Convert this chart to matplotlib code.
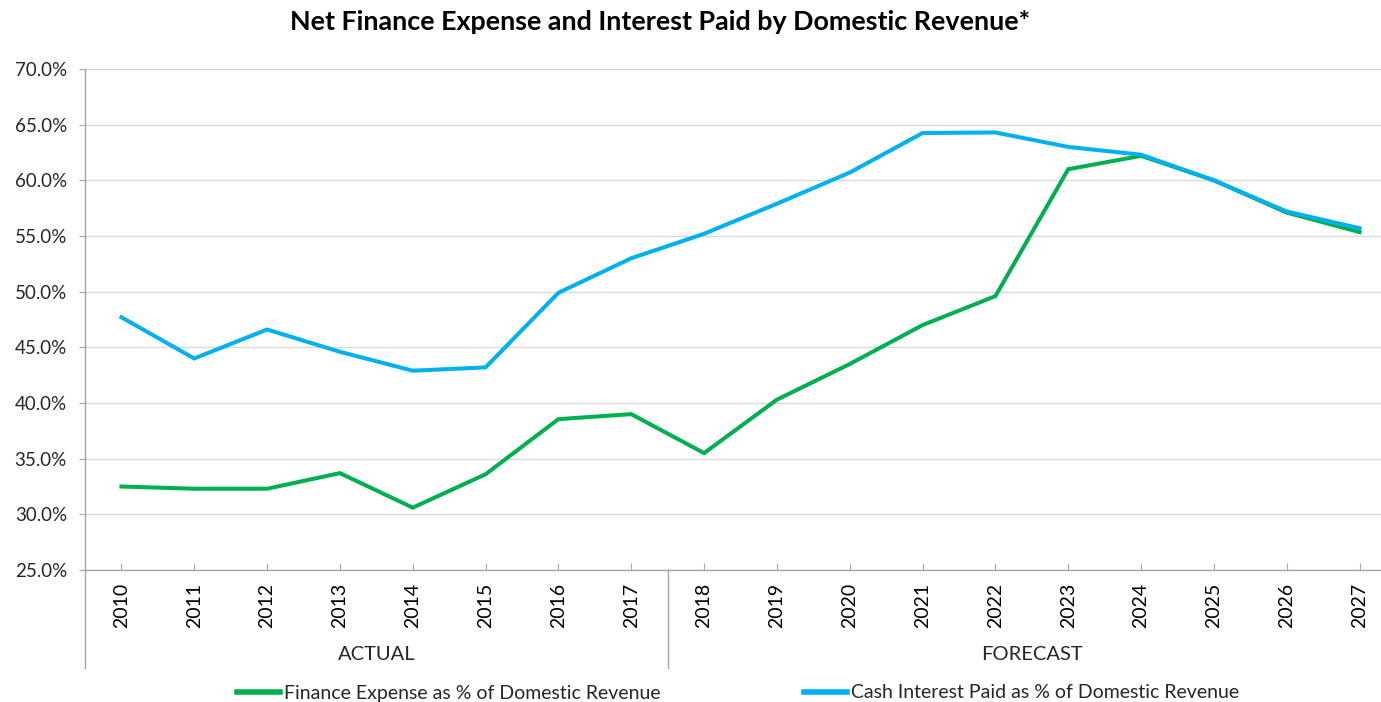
import matplotlib.pyplot as plt
import matplotlib.transforms as mtransforms
from matplotlib.ticker import FuncFormatter
from matplotlib.lines import Line2D

years = [str(y) for y in range(2010, 2028)]
finance_expense = [32.5, 32.3, 32.3, 33.7, 30.6, 33.6, 38.55, 39.0, 35.5,
                   40.3, 43.5, 47.0, 49.6, 61.0, 62.2, 60.0, 57.1, 55.35]
cash_interest = [47.7, 44.0, 46.6, 44.6, 42.9, 43.2, 49.9, 53.0, 55.2,
                 57.9, 60.7, 64.25, 64.3, 63.0, 62.3, 60.0, 57.2, 55.7]
groups = ["ACTUAL", "FORECAST"]
group_bounds = [(0, 7), (8, 17)]

GREEN = "#00B050"
BLUE = "#00B0F0"
GRID = "#d9d9d9"
AXIS = "#a6a6a6"
TXT = "#262626"

plt.rcParams["font.family"] = ["Lato", "DejaVu Sans"]

fig = plt.figure(figsize=(13.81, 7.02), dpi=100)
ax = fig.add_axes([85 / 1381, 1 - 570 / 702, (1396 - 85) / 1381, (570 - 69) / 702])

x = list(range(len(years)))
ax.plot(x, finance_expense, color=GREEN, lw=2.9, solid_joinstyle="miter")
ax.plot(x, cash_interest, color=BLUE, lw=2.9, solid_joinstyle="miter")

ax.set_xlim(-0.5, len(years) - 0.5)
ax.set_ylim(25, 70)
ax.set_yticks(range(25, 71, 5))
ax.yaxis.set_major_formatter(FuncFormatter(lambda v, p: f"{v:.1f}%"))
ax.grid(axis="y", color=GRID, lw=1)
ax.set_axisbelow(True)

for s in ["top", "right"]:
    ax.spines[s].set_visible(False)
for s in ["left", "bottom"]:
    ax.spines[s].set_color(AXIS)
    ax.spines[s].set_linewidth(1)

ax.set_xticks(x)
ax.set_xticklabels(years, rotation=90, fontsize=14, color="black")
ax.tick_params(axis="x", direction="in", length=5, color=AXIS, pad=9)
ax.tick_params(axis="y", direction="out", length=4, color=AXIS, labelsize=13.5,
               labelcolor=TXT, pad=9)

# group separators and labels under the axis
trans = mtransforms.blended_transform_factory(ax.transData, ax.transAxes)
sep_bottom = -(668 - 570) / 501
for lo, hi in group_bounds:
    ax.plot([lo - 0.5, lo - 0.5], [0, sep_bottom], transform=trans,
            color=AXIS, lw=1, clip_on=False)
for (lo, hi), name in zip(group_bounds, groups):
    ax.text((lo + hi) / 2, -(654 - 570) / 501, name, transform=trans,
            ha="center", va="center", fontsize=14.5, color=TXT)

fig.text(659.5 / 1381, 1 - 22 / 702, "Net Finance Expense and Interest Paid by Domestic Revenue*",
         ha="center", va="center", fontsize=19.4, fontweight="bold")

handles = [Line2D([], [], color=GREEN, lw=4),
           Line2D([], [], color=BLUE, lw=4)]
labels = ["Finance Expense as % of Domestic Revenue",
          "Cash Interest Paid as % of Domestic Revenue"]
fig.legend(handles, labels, loc="center", bbox_to_anchor=(738 / 1381, 1 - 693 / 702),
           ncol=2, frameon=False, fontsize=14, handlelength=2.2,
           handletextpad=0.2, columnspacing=7.4, labelcolor=TXT)

fig.savefig("out.png", dpi=100)
